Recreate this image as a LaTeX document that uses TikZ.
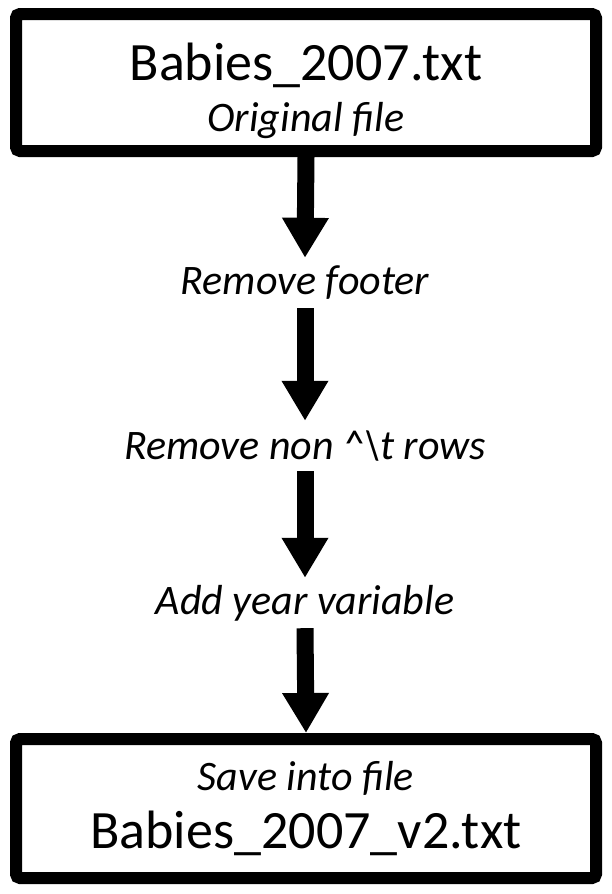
\documentclass[tikz,border=0pt]{standalone}
\usepackage{fontspec}
\setmainfont{Carlito}
\usetikzlibrary{arrows.meta,positioning}
\tikzset{
  filebox/.style={draw,line width=12pt,rounded corners=4pt,minimum width=580pt,
    align=center,inner sep=0pt},
  steplabel/.style={minimum height=50pt,inner sep=0pt,font=\fontsize{42}{50}\selectfont\itshape},
  flowarrow/.style={line width=17pt,-{Triangle[width=44pt,length=40pt]}},
}
\begin{document}
\begin{tikzpicture}[x=1pt,y=1pt]
	\useasboundingbox (0,0) rectangle (612,-894);
	\node[filebox,minimum height=137pt](orig)at(306,-82.5)
		{\fontsize{54}{55}\selectfont\rule{0pt}{54pt}Babies\_2007.txt\\[14pt]
		 \fontsize{42}{55}\selectfont\itshape Original file};
	\node[steplabel](footer)at(305,-283){Remove footer};
	\node[steplabel](rows)at(305,-446){Remove non \textasciicircum\textbackslash t rows};
	\node[steplabel](year)at(305,-603){Add year variable};
	\node[filebox,minimum height=139pt](save)at(306,-808.5)
		{\fontsize{42}{50}\selectfont\itshape Save into file\\[15pt]
		 \fontsize{54}{57}\selectfont Babies\_2007\_v2.txt};
	\draw[flowarrow](orig.south)--(footer.north);
	\draw[flowarrow](footer.south)--(rows.north);
	\draw[flowarrow](rows.south)--(year.north);
	\draw[flowarrow](year.south)--(save.north);
\end{tikzpicture}
\end{document}
